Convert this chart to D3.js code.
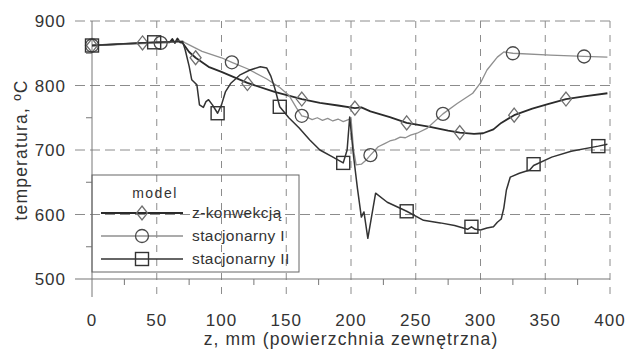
<!DOCTYPE html>
<html>
<head>
<meta charset="utf-8">
<script src="https://cdn.jsdelivr.net/npm/d3@7"></script>
<style>
  html, body { margin: 0; padding: 0; background: #fff; }
  svg { display: block; font-family: "Liberation Sans", Arial, sans-serif; }
</style>
</head>
<body>
<svg id="chart" width="628" height="350"></svg>
<script>
// Temperature along the outer surface, three model variants
const convZ = [0, 20, 40, 55, 60, 62, 64, 66, 68, 70, 75, 80, 90, 100, 120, 141, 162, 176, 190, 203, 208, 215, 230, 243, 261, 275, 284, 295, 302, 310, 316, 326, 340, 352, 366, 380, 398];
const convT = [862, 864, 866, 867, 867, 872, 866, 873, 867, 866, 852, 843, 829, 821, 804, 790, 779, 773, 769, 765, 766, 760, 751, 742, 736, 730, 727, 725, 726, 732, 742, 754, 764, 771, 779, 783, 788];

const stat1Z = [0, 30, 53, 70, 72, 85, 100, 108, 120, 135, 145, 152, 158, 162, 166, 170, 174, 178, 182, 186, 190, 194, 198, 200, 202, 204, 208, 212, 215, 221, 226, 230, 234, 238, 242, 246, 251, 259, 271, 282, 294, 300, 305, 313, 318, 325, 354, 380, 398];
const stat1T = [862, 864, 866, 869, 866, 853, 843, 836, 826, 810, 797, 785, 765, 753, 751, 747, 750, 746, 749, 745, 748, 744, 747, 750, 700, 677, 678, 685, 692, 705, 710, 714, 716, 720, 719, 723, 726, 734, 756, 772, 788, 804, 824, 844, 852, 850, 847, 845, 844];

const stat2Z = [0, 30, 48, 65, 70, 72, 75, 77, 79, 81, 83, 86, 88, 90, 93, 97, 100, 103, 107, 114, 122, 130, 135, 138, 141, 145, 152, 160, 168, 176, 185, 194, 197, 199, 202, 205, 208, 210, 213, 219, 228, 243, 256, 269, 280, 290, 293, 296, 300, 305, 310, 313, 316, 318, 320, 323, 330, 338, 341, 355, 370, 391, 398];
const stat2T = [862, 865, 867, 868, 868, 855, 830, 809, 805, 801, 770, 766, 775, 778, 770, 757, 770, 790, 803, 816, 824, 829, 827, 815, 797, 767, 750, 734, 716, 700, 690, 680, 700, 751, 690, 640, 596, 604, 563, 633, 619, 605, 591, 587, 583, 577, 581, 577, 576, 579, 581, 588, 593, 610, 638, 658, 664, 669, 676, 689, 698, 706, 709];

// Marker positions for each series
const convMarkZ = [0, 39, 80, 120, 162, 203, 243, 284, 326, 366];
const convMarkT = [862, 866, 843, 803, 779, 765, 742, 727, 754, 779];
const stat1MarkZ = [0, 53, 108, 162, 215, 271, 325, 380];
const stat1MarkT = [862, 866, 836, 753, 692, 756, 850, 845];
const stat2MarkZ = [0, 48, 97, 145, 194, 243, 293, 341, 391];
const stat2MarkT = [862, 867, 757, 767, 680, 605, 581, 678, 706];

const xTicks = [0, 50, 100, 150, 200, 250, 300, 350, 400];
const yTicks = [500, 600, 700, 800, 900];
const xMinor = [25, 75, 125, 175, 225, 275, 325, 375];
const yMinor = [550, 650, 750, 850];

const legendLabels = ["z-konwekcją", "stacjonarny I", "stacjonarny II"];

const svg = d3.select("#chart");
const x = d3.scaleLinear().domain([0, 400]).range([92, 610]);
const y = d3.scaleLinear().domain([500, 900]).range([279, 21]);

const gridColor = "#8c8c8c";

// horizontal dashed grid
svg.append("g").selectAll("line").data(yTicks.filter(d => d > 500)).join("line")
  .attr("x1", 75).attr("x2", x(400))
  .attr("y1", d => y(d)).attr("y2", d => y(d))
  .attr("stroke", gridColor).attr("stroke-width", 1).attr("stroke-dasharray", "10,5");

// vertical dashed grid, running below the axis as ticks
svg.append("g").selectAll("line").data(xTicks.filter(d => d > 0)).join("line")
  .attr("x1", d => x(d)).attr("x2", d => x(d))
  .attr("y1", y(900)).attr("y2", 297)
  .attr("stroke", gridColor).attr("stroke-width", 1).attr("stroke-dasharray", "7,7");

// left axis line (z = 0)
svg.append("line")
  .attr("x1", x(0)).attr("x2", x(0)).attr("y1", y(900)).attr("y2", 297)
  .attr("stroke", "#777").attr("stroke-width", 1);

// bottom axis line
svg.append("line")
  .attr("x1", 75).attr("x2", x(400)).attr("y1", y(500)).attr("y2", y(500))
  .attr("stroke", "#777").attr("stroke-width", 1.2);

// minor ticks
svg.append("g").selectAll("line").data(yMinor).join("line")
  .attr("x1", 86).attr("x2", x(0)).attr("y1", d => y(d)).attr("y2", d => y(d))
  .attr("stroke", "#777").attr("stroke-width", 1);
svg.append("g").selectAll("line").data(xMinor).join("line")
  .attr("x1", d => x(d)).attr("x2", d => x(d)).attr("y1", y(500)).attr("y2", y(500) + 6)
  .attr("stroke", "#777").attr("stroke-width", 1);

// tick labels
svg.append("g").selectAll("text").data(yTicks).join("text")
  .attr("x", 66).attr("y", d => y(d) + 6)
  .attr("text-anchor", "end").attr("font-size", 17).attr("letter-spacing", 1)
  .attr("fill", "#333").text(d => d);
svg.append("g").selectAll("text").data(xTicks).join("text")
  .attr("x", d => x(d)).attr("y", 326)
  .attr("text-anchor", "middle").attr("font-size", 17).attr("letter-spacing", 1)
  .attr("fill", "#333").text(d => d);

// axis titles
svg.append("text")
  .attr("x", 351).attr("y", 345).attr("text-anchor", "middle")
  .attr("font-size", 17.5).attr("letter-spacing", 1.1).attr("fill", "#333")
  .text("z, mm (powierzchnia zewnętrzna)");
svg.append("text")
  .attr("transform", "translate(27,150) rotate(-90)")
  .attr("text-anchor", "middle").attr("font-size", 17.5).attr("letter-spacing", 1.2).attr("fill", "#333")
  .text("temperatura, ºC");

// series lines
const line = d3.line().x(d => x(d[0])).y(d => y(d[1]));
const zip = (a, b) => a.map((v, i) => [v, b[i]]);

const series = [
  { z: convZ, t: convT, mz: convMarkZ, mt: convMarkT, stroke: "#2b2b2b", width: 1.8, mark: "diamond", mstroke: "#707070" },
  { z: stat1Z, t: stat1T, mz: stat1MarkZ, mt: stat1MarkT, stroke: "#8f8f8f", width: 1.3, mark: "circle", mstroke: "#4a4a4a" },
  { z: stat2Z, t: stat2T, mz: stat2MarkZ, mt: stat2MarkT, stroke: "#333", width: 1.5, mark: "square", mstroke: "#333" }
];

series.forEach(s => {
  svg.append("path").datum(zip(s.z, s.t))
    .attr("d", line).attr("fill", "none")
    .attr("stroke", s.stroke).attr("stroke-width", s.width)
    .attr("stroke-linejoin", "round");
});

function drawMarker(g, kind, cx, cy, color) {
  if (kind === "diamond") {
    g.append("path")
      .attr("d", `M${cx},${cy - 7}L${cx + 5.5},${cy}L${cx},${cy + 7}L${cx - 5.5},${cy}Z`)
      .attr("fill", "none").attr("stroke", color).attr("stroke-width", 1.3);
  } else if (kind === "circle") {
    g.append("circle").attr("cx", cx).attr("cy", cy).attr("r", 6.5)
      .attr("fill", "none").attr("stroke", color).attr("stroke-width", 1.3);
  } else {
    g.append("rect").attr("x", cx - 6.5).attr("y", cy - 6.5).attr("width", 13).attr("height", 13)
      .attr("fill", "none").attr("stroke", color).attr("stroke-width", 1.4);
  }
}

series.forEach(s => {
  const g = svg.append("g");
  zip(s.mz, s.mt).forEach(d => drawMarker(g, s.mark, x(d[0]), y(d[1]), s.mstroke));
});

// legend
const lg = svg.append("g");
lg.append("rect").attr("x", 92).attr("y", 175).attr("width", 207).attr("height", 97)
  .attr("fill", "none").attr("stroke", "#666").attr("stroke-width", 1);
lg.append("text").attr("x", 155).attr("y", 198).attr("text-anchor", "middle")
  .attr("font-size", 14).attr("letter-spacing", 1.5).attr("fill", "#333").text("model");
series.forEach((s, i) => {
  const ly = 213 + i * 23;
  lg.append("line").attr("x1", 101).attr("x2", 183).attr("y1", ly).attr("y2", ly)
    .attr("stroke", s.stroke).attr("stroke-width", s.width);
  drawMarker(lg, s.mark, 142, ly, s.mstroke);
  lg.append("text").attr("x", 192).attr("y", ly + 5)
    .attr("font-size", 15.5).attr("letter-spacing", 0.4).attr("fill", "#333").text(legendLabels[i]);
});
</script>
</body>
</html>
